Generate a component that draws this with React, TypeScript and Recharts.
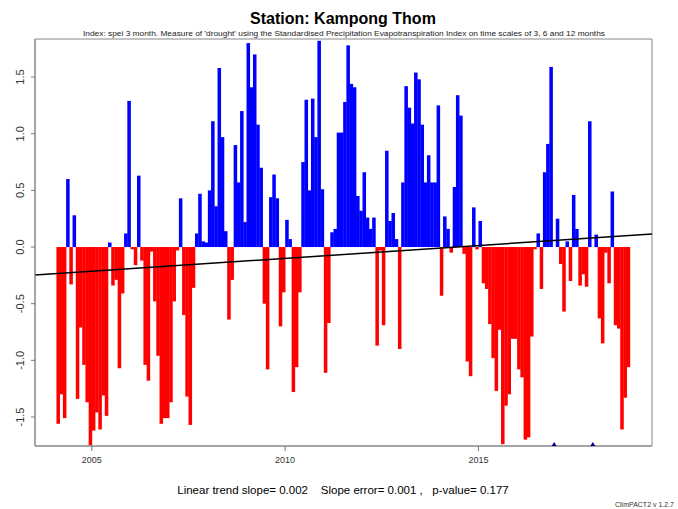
import React from 'react'
import { ComposedChart, Bar, Cell, XAxis, YAxis, Scatter, ReferenceLine, ReferenceArea } from 'recharts'

// SPEI-3 monthly values, March 2004 .. December 2018 (null = missing month)
const FIRST_YEAR = 2004
const FIRST_MONTH_INDEX = 2 // 0 = January
const speiValues: (number | null)[] = [
  -1.56, -1.30, -1.51, 0.60, -0.33, 0.28, -1.34, -0.71, -1.04, -1.37,
  -1.75, -1.62, -1.46, -1.61, -1.31, -1.49, 0.04, -0.34, -0.29, -1.07,
  -0.41, 0.12, 1.29, -0.02, -0.16, 0.63, -0.12, -1.04, -1.18, -0.04,
  -0.48, -0.96, -1.56, -1.51, -1.51, -1.37, -0.48, -0.03, 0.43, -0.60,
  -1.32, -1.57, -0.36, 0.12, 0.47, 0.05, 0.04, 0.50, 1.11, 0.36,
  1.58, 0.97, 0.14, -0.64, -0.29, 0.90, 0.57, 1.20, 0.22, 1.80,
  1.41, 1.70, 1.08, 0.70, -0.50, -1.08, 0.44, 0.64, 0.43, -0.70,
  -0.40, 0.24, 0.07, -1.28, -1.06, -0.40, 0.75, 1.30, 0.50, 1.31,
  0.97, 1.82, 0.51, -1.11, -0.67, 0.13, 0.16, 1.01, 1.01, 1.28,
  1.78, 1.44, 1.41, 0.45, 0.32, 0.66, 0.26, 0.16, 0.26, -0.87,
  -0.03, -0.69, 0.85, 0.23, 0.30, 0.07, -0.90, 0.57, 1.42, 1.23,
  1.09, 1.54, 1.48, 1.08, 0.57, 0.81, 0.57, 0.57, 1.25, -0.43,
  0.27, 0.16, -0.05, 0.53, 1.34, 1.16, -0.06, -1.01, -1.14, 0.35,
  -0.02, 0.23, -0.32, -0.37, -0.68, -0.98, -1.27, -0.73, -1.74, -1.40,
  -1.30, -0.81, -0.81, -1.08, -1.15, -1.70, -1.68, -0.79, -0.02, 0.12,
  -0.37, 0.66, 0.91, 1.59, null, 0.25, -0.15, -0.57, 0.05, -0.30,
  0.46, 0.16, -0.34, -0.24, -0.35, 1.11, null, 0.11, -0.63, -0.85,
  -0.05, -0.32, 0.49, -0.69, -0.72, -1.61, -1.33, -1.06,
]

const yearTicks = [2005, 2010, 2015]
const speiTicks = [-1.5, -1.0, -0.5, 0.0, 0.5, 1.0, 1.5]
const xDomain = [2003.53, 2019.49]
const yDomain = [-1.756, 1.836]
const trendEnds = [-0.247, 0.115] // fitted line value at left / right edge

const data = speiValues.map((v, k) => ({
  t: FIRST_YEAR + (FIRST_MONTH_INDEX + k - 0.5) / 12,
  spei: v,
}))

const missing = data.filter(d => d.spei === null).map(d => ({ t: d.t, y: yDomain[0] }))

const font = '"Liberation Sans", Arial, sans-serif'

const YTick = (props: any) => {
  const { y, payload } = props
  return (
    <text x={24} y={y} transform={`rotate(-90 24 ${y})`} textAnchor="middle"
      fontSize={11} fill="#333" fontFamily={font}>
      {Number(payload.value).toFixed(1)}
    </text>
  )
}

// recharts shrinks bars to 90% of the month spacing; widen them back so they touch
const MonthBar = (props: any) => {
  const { x, y, width, height, fill } = props
  if (!height) return null
  const w = width / 0.9 + 0.2
  const top = Math.min(y, y + height)
  return <rect x={x + width / 2 - w / 2} y={top} width={w} height={Math.abs(height)} fill={fill} />
}

const Triangle = (props: any) => {
  const { cx, cy } = props
  return <path d={`M${cx - 2.5},${cy} L${cx + 2.5},${cy} L${cx},${cy - 4} Z`} fill="#00008b" />
}

export default function App() {
  return (
    <div style={{ position: 'absolute', left: 0, top: 0, width: 678, height: 509, background: '#fff' }}>
      <ComposedChart width={678} height={509} data={data}
        margin={{ top: 39, right: 26, bottom: 33, left: 0 }}>
        <XAxis dataKey="t" type="number" domain={xDomain} ticks={yearTicks} allowDataOverflow
          height={30} tickSize={5} tickLine={{ stroke: '#777' }} axisLine={{ stroke: '#888' }}
          tick={{ fontSize: 9, fill: '#333', fontFamily: font }} tickMargin={6} />
        <YAxis type="number" domain={yDomain} ticks={speiTicks} allowDataOverflow width={35}
          tickSize={4} tickLine={{ stroke: '#777' }} axisLine={{ stroke: '#888' }} tick={<YTick />} />
        <ReferenceArea x1={xDomain[0]} x2={xDomain[1]} y1={yDomain[0]} y2={yDomain[1]}
          fill="none" stroke="#888" strokeWidth={1} ifOverflow="visible" />
        <Bar dataKey="spei" shape={<MonthBar />} isAnimationActive={false}>
          {data.map((d, i) => (
            <Cell key={i} fill={d.spei !== null && d.spei >= 0 ? '#0000ff' : '#ff0000'} />
          ))}
        </Bar>
        <ReferenceLine segment={[{ x: xDomain[0], y: trendEnds[0] }, { x: xDomain[1], y: trendEnds[1] }]}
          stroke="#000" strokeWidth={1.5} ifOverflow="visible" />
        <Scatter data={missing} dataKey="y" shape={<Triangle />} isAnimationActive={false} />
      </ComposedChart>
      <svg width={678} height={509} style={{ position: 'absolute', left: 0, top: 0, pointerEvents: 'none' }}>
        <text x={343} y={24} textAnchor="middle" fontSize={16} fontWeight="bold" fill="#000" fontFamily={font}>
          Station: Kampong Thom
        </text>
        <text x={344} y={36} textAnchor="middle" fontSize={8} fill="#222" fontFamily={font}
          textLength={522} lengthAdjust="spacingAndGlyphs">
          Index: spei 3 month. Measure of 'drought' using the Standardised Precipitation Evapotranspiration Index on time scales of 3, 6 and 12 months
        </text>
        <text x={343} y={494} textAnchor="middle" fontSize={11.5} fill="#000" fontFamily={font}
          style={{ whiteSpace: 'pre' }}>
          {'Linear trend slope= 0.002    Slope error= 0.001 ,   p-value= 0.177'}
        </text>
        <text x={615} y={507} fontSize={7} fill="#333" fontFamily={font}>ClimPACT2 v 1.2.7</text>
      </svg>
    </div>
  )
}
